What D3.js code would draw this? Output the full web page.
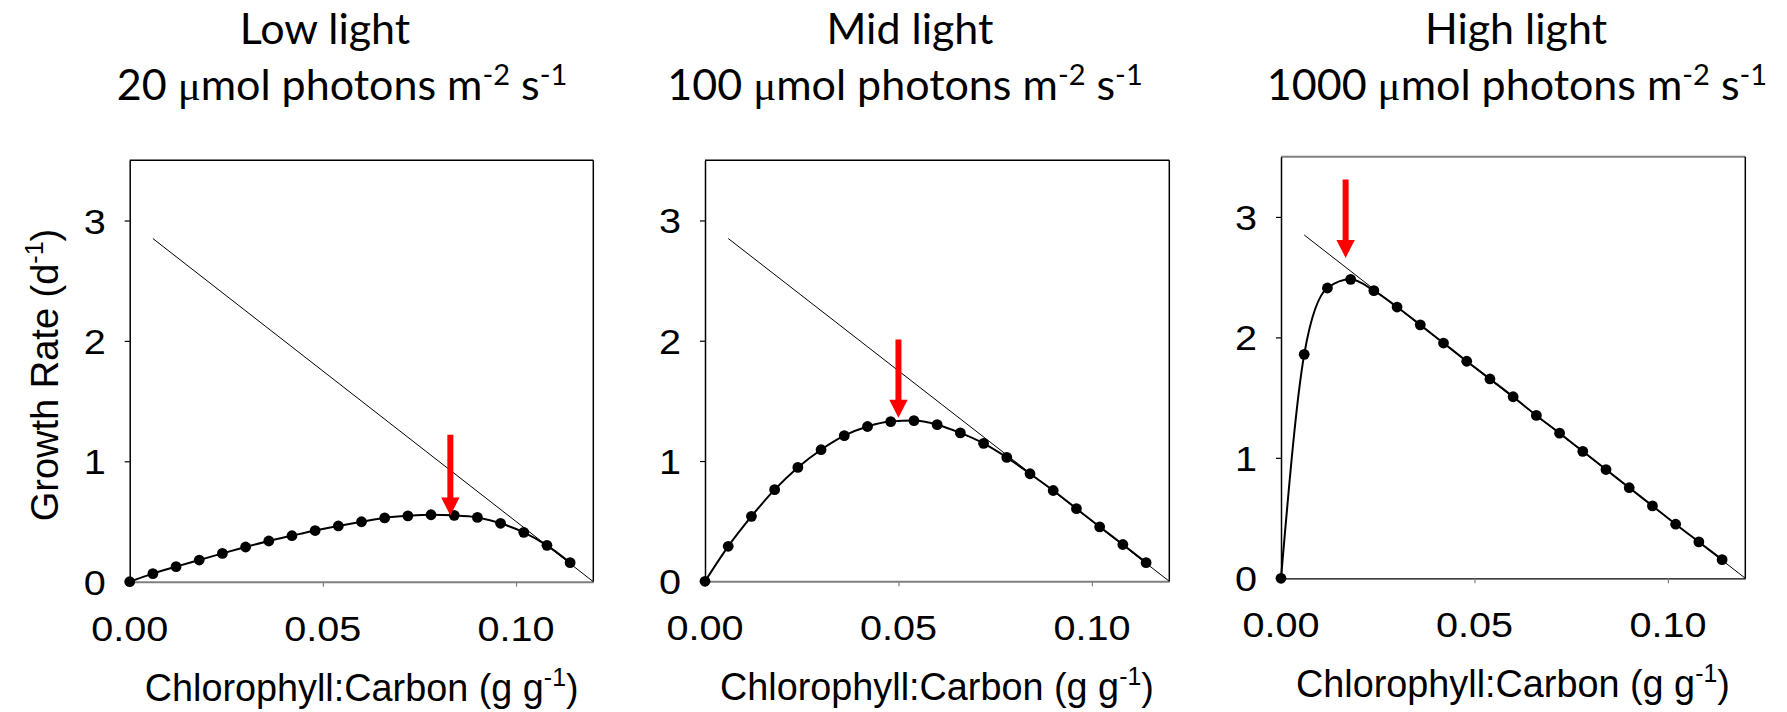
<!DOCTYPE html>
<html><head><meta charset="utf-8">
<script src="https://cdn.jsdelivr.net/npm/d3@7"></script>
<style>body{margin:0;background:#fff} svg{display:block}</style>
</head><body>
<svg id="chart" width="1787" height="712"></svg>
<script>
// ---- data ----
const chlC = [0.000,0.006,0.012,0.018,0.024,0.030,0.036,0.042,0.048,0.054,0.060,0.066,0.072,0.078,0.084,0.090,0.096,0.102,0.108,0.114];
const growthLow  = [0, 0.067, 0.125, 0.180, 0.235, 0.288, 0.338, 0.382, 0.425, 0.463, 0.498, 0.530, 0.547, 0.556, 0.551, 0.534, 0.485, 0.410, 0.302, 0.158];
const growthMid  = [0, 0.291, 0.540, 0.762, 0.947, 1.094, 1.211, 1.287, 1.328, 1.336, 1.302, 1.234, 1.147, 1.030, 0.894, 0.755, 0.604, 0.453, 0.306, 0.155];
const growthHigh = [0, 1.859, 2.410, 2.482, 2.388, 2.252, 2.104, 1.953, 1.802, 1.655, 1.507, 1.352, 1.205, 1.054, 0.903, 0.752, 0.601, 0.449, 0.302, 0.155];
const limitX = [0.006, 0.120];
const limitY = [2.85, 0];
const arrowX   = [0.083, 0.050, 0.0167];
const arrowTop = [1.22, 2.01, 3.31];
const arrowTip = [0.55, 1.36, 2.66];
const panelTitles = ["Low light", "Mid light", "High light"];
const irradiance = ["20", "100", "1000"];
const xTicks = [0, 0.05, 0.10];
const xTickLabels = ["0.00", "0.05", "0.10"];
const yTicks = [0, 1, 2, 3];
const yTickLabels = ["0", "1", "2", "3"];
const xDomain = [0, 0.12];
const yDomain = [0, 3.5];

// ---- layout ----
const series = [growthLow, growthMid, growthHigh];
const panels = [
  {x:129.7, y:160.3, w:463.6, h:421.4, t1:325, t2:342, bottom:"#808080", bw:2, top:"#000", tw:1.5},
  {x:705.0, y:160.3, w:464.3, h:421.0, t1:910, t2:905, bottom:"#808080", bw:2, top:"#000", tw:1.5},
  {x:1281.0, y:156.7, w:464.3, h:421.6, t1:1516, t2:1517, bottom:"#000", bw:1.2, top:"#808080", tw:2}
];
const FONT = "'Liberation Sans', Arial, sans-serif";
const TFONT = "Lato, 'Open Sans', sans-serif";
const SX = 1.1;
const svg = d3.select("#chart");

function stretchText(g, x, y, sx, anchor, size, family) {
  const gg = g.append("g").attr("transform", `translate(${x},${y}) scale(${sx},1)`);
  return gg.append("text").attr("text-anchor", anchor).attr("font-size", size)
    .attr("font-family", family).attr("fill", "#000");
}

panels.forEach((p, i) => {
  const g = svg.append("g");
  const x = d3.scaleLinear().domain(xDomain).range([p.x, p.x + p.w]);
  const y = d3.scaleLinear().domain(yDomain).range([p.y + p.h, p.y]);

  // frame: top & right
  g.append("line").attr("x1", x(xDomain[0])).attr("x2", x(xDomain[1])).attr("y1", y(yDomain[1])).attr("y2", y(yDomain[1]))
    .attr("stroke", p.top).attr("stroke-width", p.tw);
  g.append("line").attr("x1", x(xDomain[1])).attr("x2", x(xDomain[1])).attr("y1", y(yDomain[0])).attr("y2", y(yDomain[1]))
    .attr("stroke", "#000").attr("stroke-width", 1.5);

  // axes (lines & ticks)
  const ax = g.append("g").attr("transform", `translate(0,${y(0)})`)
    .call(d3.axisBottom(x).tickValues(xTicks).tickSize(5).tickSizeOuter(0).tickFormat(""));
  ax.select(".domain").attr("stroke", p.bottom).attr("stroke-width", p.bw);
  ax.selectAll(".tick line").attr("stroke", "#808080").attr("stroke-width", 1.2);
  const ay = g.append("g").attr("transform", `translate(${x(0)},0)`)
    .call(d3.axisLeft(y).tickValues(yTicks).tickSize(5).tickSizeOuter(0).tickFormat(""));
  ay.select(".domain").attr("stroke", "#000").attr("stroke-width", 1.5);
  ay.selectAll(".tick line").attr("stroke", "#000").attr("stroke-width", 1.2);

  // tick labels
  yTicks.forEach((v, k) => {
    stretchText(g, x(0) - 24, y(v) + 13, SX, "end", 36, FONT).text(yTickLabels[k]);
  });
  xTicks.forEach((v, k) => {
    stretchText(g, x(v), y(0) + 59, SX, "middle", 36, FONT).text(xTickLabels[k]);
  });

  // x axis title
  const xt = stretchText(g, p.x + 15, y(0) + 119, 1, "start", 38, FONT);
  xt.append("tspan").text("Chlorophyll:Carbon (g g");
  xt.append("tspan").attr("font-size", 25).attr("dy", -15).text("-1");
  xt.append("tspan").attr("dy", 15).text(")");
  const nat = xt.node().getComputedTextLength();
  xt.node().parentNode.setAttribute("transform", `translate(${p.x + 15},${y(0) + 119}) scale(${434 / nat},1)`);

  // titles
  g.append("text").attr("x", p.t1).attr("y", 44).attr("text-anchor", "middle")
    .attr("font-family", TFONT).attr("font-size", 43).text(panelTitles[i]);
  const t2 = g.append("text").attr("x", p.t2).attr("y", 100).attr("text-anchor", "middle")
    .attr("font-family", TFONT).attr("font-size", 43);
  t2.append("tspan").text(irradiance[i] + " ");
  t2.append("tspan").attr("font-family", "'Liberation Serif', serif").text("\u03bc");
  t2.append("tspan").text("mol photons m");
  t2.append("tspan").attr("font-size", 29).attr("dy", -15).text("-2");
  t2.append("tspan").attr("dy", 15).text(" s");
  t2.append("tspan").attr("font-size", 29).attr("dy", -15).text("-1");

  // limit line
  g.append("line").attr("x1", x(limitX[0])).attr("y1", y(limitY[0]))
    .attr("x2", x(limitX[1])).attr("y2", y(limitY[1]))
    .attr("stroke", "#000").attr("stroke-width", 1);

  // curve
  const pts = chlC.map((c, k) => [c, series[i][k]]);
  g.append("path").datum(pts)
    .attr("d", d3.line().x(d => x(d[0])).y(d => y(d[1])).curve(d3.curveMonotoneX))
    .attr("fill", "none").attr("stroke", "#000").attr("stroke-width", 2);
  g.selectAll("circle.pt").data(pts).enter().append("circle")
    .attr("cx", d => x(d[0])).attr("cy", d => y(d[1])).attr("r", 5.4).attr("fill", "#000");

  // arrow
  const ax0 = x(arrowX[i]), yt = y(arrowTop[i]), yb = y(arrowTip[i]);
  const sw = 3.0, hw = 9.2, hl = 18;
  g.append("path").attr("d",
    `M${ax0 - sw},${yt} L${ax0 + sw},${yt} L${ax0 + sw},${yb - hl} L${ax0 + hw},${yb - hl} L${ax0},${yb} L${ax0 - hw},${yb - hl} L${ax0 - sw},${yb - hl} Z`)
    .attr("fill", "#ff0000");
});

// y axis title (first panel only)
const yt = svg.append("text").attr("transform", "translate(58,375) rotate(-90)")
  .attr("text-anchor", "middle").attr("font-family", FONT).attr("font-size", 38);
yt.append("tspan").text("Growth Rate (d");
yt.append("tspan").attr("font-size", 25).attr("dy", -15).text("-1");
yt.append("tspan").attr("dy", 15).text(")");
</script>
</body></html>
